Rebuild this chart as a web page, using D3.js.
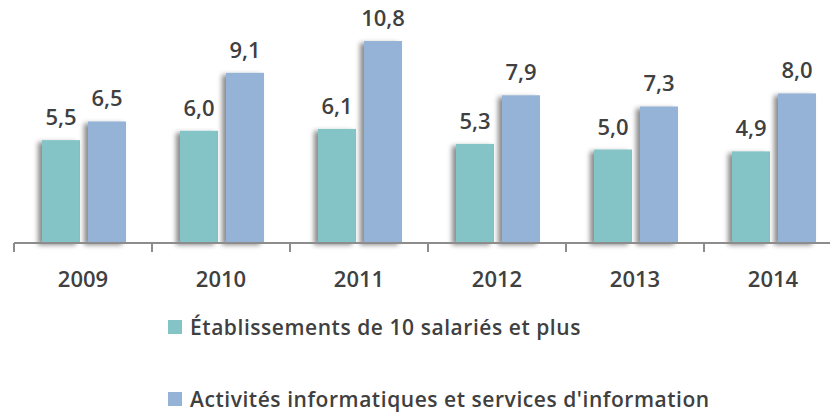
<!DOCTYPE html>
<html>
<head>
<meta charset="utf-8">
<script src="https://cdn.jsdelivr.net/npm/d3@7"></script>
<style>
  body { margin: 0; background: #fff; }
  text { font-family: "Open Sans", Lato, sans-serif; fill: #404040; font-weight: 600; }
</style>
</head>
<body>
<div id="chart"></div>
<script>
// data
const years = ["2009", "2010", "2011", "2012", "2013", "2014"];
const seriesNames = ["Établissements de 10 salariés et plus", "Activités informatiques et services d'information"];
const etab = [5.5, 6.0, 6.1, 5.3, 5.0, 4.9];
const info = [6.5, 9.1, 10.8, 7.9, 7.3, 8.0];
const colors = ["#84c3c6", "#95b3d7"];

const width = 830;
const height = 414;

const svg = d3.select("#chart")
              .append("svg")
              .attr("width", width)
              .attr("height", height);

// shadow on the left of each bar
const defs = svg.append("defs");
defs.append("filter")
    .attr("id", "shadow")
    .attr("x", "-40%").attr("y", "-10%")
    .attr("width", "160%").attr("height", "120%")
    .append("feDropShadow")
    .attr("dx", -4).attr("dy", 2)
    .attr("stdDeviation", 2.5)
    .attr("flood-color", "#000")
    .attr("flood-opacity", 0.45);

const x = d3.scaleBand()
            .domain(years)
            .range([14, 842]);

const xInner = d3.scaleBand()
                 .domain([0, 1])
                 .range([28, 112])
                 .paddingInner(0.174);

const y = d3.scaleLinear()
            .domain([0, 12])
            .range([243, 18.6]);

const rows = years.map((yr, i) => ({ year: yr, values: [etab[i], info[i]] }));

const groups = svg.selectAll(".group")
                  .data(rows)
                  .enter()
                  .append("g")
                  .attr("class", "group")
                  .attr("transform", d => `translate(${x(d.year)},0)`);

groups.selectAll("rect")
      .data(d => d.values.map((v, k) => ({ k, v })))
      .enter()
      .append("rect")
      .attr("x", d => xInner(d.k))
      .attr("y", d => y(d.v))
      .attr("width", xInner.bandwidth())
      .attr("height", d => y(0) - y(d.v))
      .attr("fill", d => colors[d.k])
      .attr("filter", "url(#shadow)");

groups.selectAll(".val")
      .data(d => d.values.map((v, k) => ({ k, v })))
      .enter()
      .append("text")
      .attr("class", "val")
      .attr("x", d => xInner(d.k) + xInner.bandwidth() / 2)
      .attr("y", d => y(d.v) - 15)
      .attr("text-anchor", "middle")
      .style("font-size", "22px")
      .text(d => d.v.toFixed(1).replace(".", ","));

// axis line with ticks at band edges
const axis = svg.append("g").attr("class", "x-axis");
axis.append("line")
    .attr("x1", x.range()[0]).attr("x2", x.range()[1])
    .attr("y1", y(0)).attr("y2", y(0))
    .attr("stroke", "#8c8c8c")
    .attr("stroke-width", 2);

axis.selectAll(".tick")
    .data(years)
    .enter()
    .append("line")
    .attr("x1", d => x(d)).attr("x2", d => x(d))
    .attr("y1", y(0)).attr("y2", y(0) + 9)
    .attr("stroke", "#8c8c8c")
    .attr("stroke-width", 2);

axis.selectAll(".lbl")
    .data(years)
    .enter()
    .append("text")
    .attr("x", d => x(d) + x.bandwidth() / 2)
    .attr("y", 287)
    .attr("text-anchor", "middle")
    .style("font-size", "22px")
    .text(d => d);

// legend
const legend = svg.selectAll(".legend")
                  .data(seriesNames)
                  .enter()
                  .append("g")
                  .attr("class", "legend")
                  .attr("transform", (d, i) => `translate(168,${320 + i * 72})`);

legend.append("rect")
      .attr("width", 14)
      .attr("height", 14)
      .attr("fill", (d, i) => colors[i]);

legend.append("text")
      .attr("x", 22)
      .attr("y", 15)
      .style("font-size", "21px")
      .style("letter-spacing", "0.55px")
      .text(d => d);
</script>
</body>
</html>
